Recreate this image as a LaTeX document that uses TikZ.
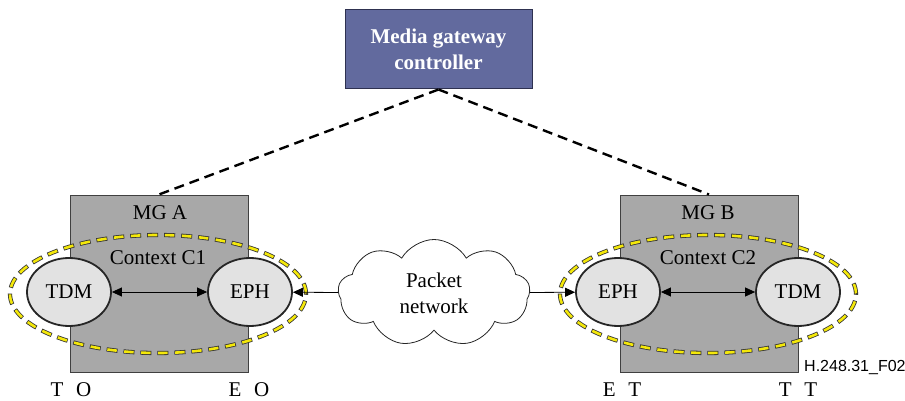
\documentclass[tikz,border=0pt]{standalone}
\usepackage{fontspec}
\setmainfont{Liberation Serif}
\newfontfamily\labsans{Liberation Sans}
\usepackage{tikz}
\usetikzlibrary{arrows.meta,positioning,shapes.geometric,shapes.symbols}
\definecolor{mgcblue}{HTML}{626A9E}
\definecolor{mgcedge}{HTML}{2E3150}
\definecolor{boxgray}{HTML}{A8A8A8}
\definecolor{termfill}{HTML}{E2E2E2}
\definecolor{ctxyel}{HTML}{F4E80A}
\tikzset{
  mgbox/.style={draw=black!75,line width=1pt,fill=boxgray,minimum width=178pt,minimum height=177pt,inner sep=0pt},
  ctx/.style={ellipse,draw=black!80,line width=4.2pt,dash pattern=on 11pt off 6pt,minimum width=296pt,minimum height=118pt,inner sep=0pt,
    postaction={draw=ctxyel,line width=2.6pt,dash pattern=on 9.5pt off 7.5pt,dash phase=16.25pt}},
  term/.style={ellipse,draw=black!85,line width=1.8pt,fill=termfill,minimum width=84pt,minimum height=68pt,inner sep=0pt,font=\fontsize{21}{24}\selectfont},
  txt/.style={font=\fontsize{21}{24}\selectfont,inner sep=0pt},
  ar/.style={line width=0.8pt,black},
  ctl/.style={line width=2.4pt,black,dash pattern=on 10pt off 6pt}
}
\begin{document}
\begin{tikzpicture}[x=1pt,y=-1pt]
\useasboundingbox (0,0) rectangle (905,401);
% controller
\node[draw=mgcedge,line width=1pt,fill=mgcblue,minimum width=187pt,minimum height=79pt,align=center,
  text=white,font=\bfseries\fontsize{21}{26}\selectfont] (mgc) at (438.5,49.5) {Media gateway\\controller};
% the two gateways
\node[mgbox] (mga) at (159,283.5) {};
\node[mgbox] (mgb) at (709,283.5) {};
\node[txt] (mganame) at (160,213) {MG A};
\node[txt] (mgbname) at (708,213) {MG B};
\draw[ctl] (mgc.south) -- (mga.north);
\draw[ctl] (mgc.south) -- (mgb.north);
% contexts
\node[ctx] (ctxa) at (158,294) {};
\node[ctx] (ctxb) at (708,294) {};
\node[txt] (ctxaname) at (158,258) {Context C1};
\node[txt] (ctxbname) at (708,258) {Context C2};
\node[term] (tdma) at (69,292) {TDM};
\node[term] (epha) at (250,292) {EPH};
\node[term] (ephb) at (618,292) {EPH};
\node[term] (tdmb) at (798,292) {TDM};
% packet network
\node[cloud,draw=black!85,line width=0.8pt,fill=white,cloud puffs=9,cloud puff arc=120,aspect=1.8,
  minimum width=192pt,minimum height=107pt,inner sep=0pt,align=center,font=\fontsize{21}{26}\selectfont] (net) at (434,293) {Packet\\network};
\draw[ar,{Triangle[length=10pt,width=9pt]}-{Triangle[length=10pt,width=9pt]}] (tdma) -- (epha);
\draw[ar,{Triangle[length=10pt,width=9pt]}-{Triangle[length=10pt,width=9pt]}] (ephb) -- (tdmb);
\draw[ar,-{Triangle[length=10pt,width=9pt]}] (net) -- (epha);
\draw[ar,-{Triangle[length=10pt,width=9pt]}] (net) -- (ephb);
% termination labels
\node[txt] (lto) at (71,390) {T\hspace{0.6em}O};
\node[txt] (leo) at (249,390) {E\hspace{0.6em}O};
\node[txt] (let) at (622,390) {E\hspace{0.6em}T};
\node[txt] (ltt) at (798,390) {T\hspace{0.6em}T};
\node[anchor=west,inner sep=0pt,font=\labsans\fontsize{16}{18}\selectfont] (figid) at (804,368) {H.248.31\_F02};
\end{tikzpicture}
\end{document}
